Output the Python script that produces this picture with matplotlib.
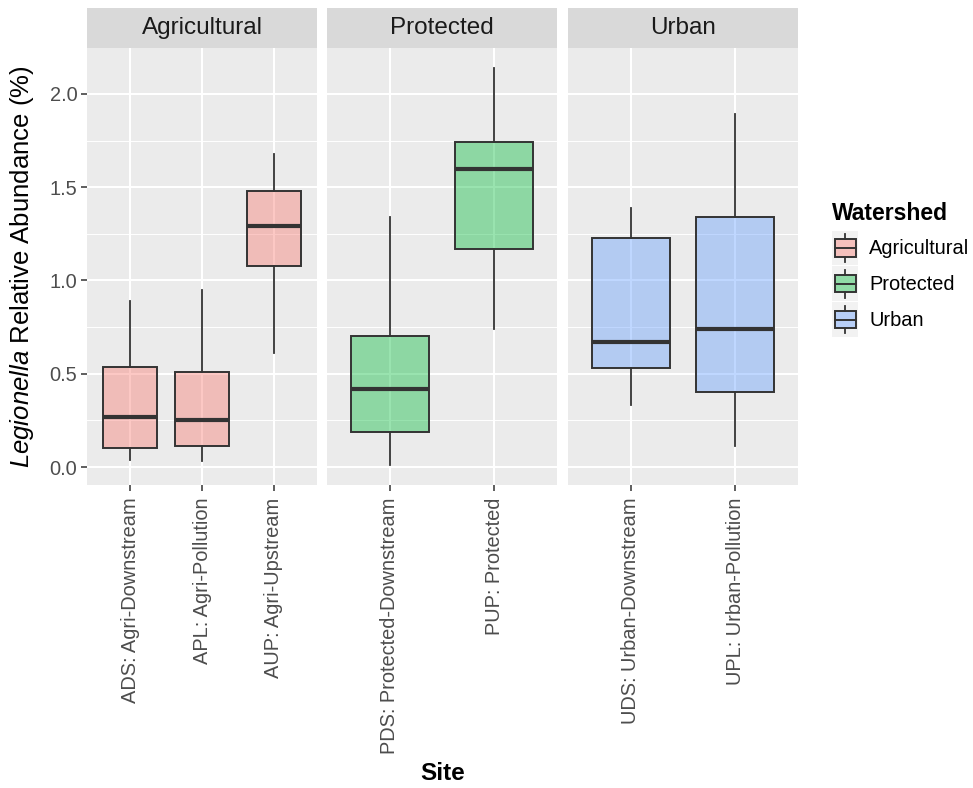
import matplotlib
matplotlib.use('Agg')
import matplotlib.pyplot as plt
from matplotlib.colors import to_rgba
from matplotlib.lines import Line2D
from matplotlib.patches import Rectangle
from matplotlib.legend_handler import HandlerBase

plt.rcParams['font.family'] = ['Liberation Sans', 'DejaVu Sans']
plt.rcParams['mathtext.fontset'] = 'custom'
plt.rcParams['mathtext.rm'] = 'Liberation Sans'
plt.rcParams['mathtext.it'] = 'Liberation Sans:italic'

# watershed facets and the hue each one gets
watersheds = ['Agricultural', 'Protected', 'Urban']
watershed_colors = ['#F8766D', '#00BA38', '#619CFF']

# one entry per site
site_labels = ['ADS: Agri-Downstream', 'APL: Agri-Pollution', 'AUP: Agri-Upstream',
               'PDS: Protected-Downstream', 'PUP: Protected',
               'UDS: Urban-Downstream', 'UPL: Urban-Pollution']
site_watershed = ['Agricultural', 'Agricultural', 'Agricultural',
                  'Protected', 'Protected', 'Urban', 'Urban']
whisker_low = [0.04, 0.03, 0.61, 0.01, 0.74, 0.33, 0.11]
q1 = [0.10, 0.11, 1.08, 0.19, 1.17, 0.53, 0.40]
median = [0.27, 0.25, 1.29, 0.42, 1.60, 0.67, 0.74]
q3 = [0.535, 0.51, 1.48, 0.705, 1.745, 1.23, 1.34]
whisker_high = [0.89, 0.95, 1.68, 1.34, 2.14, 1.39, 1.89]

W, H = 973, 788
PANEL_BG = '#EBEBEB'
STRIP_BG = '#D9D9D9'
LINE = '#333333'
ALPHA = 0.4

fig = plt.figure(figsize=(W / 100, H / 100), dpi=100)


def px_axes(x0, y0, x1, y1):
    '''Axes placed by pixel box (top-left origin).'''
    return fig.add_axes([x0 / W, 1 - y1 / H, (x1 - x0) / W, (y1 - y0) / H])


# shared y range, expanded 5% like ggplot
lo, hi = min(whisker_low), max(whisker_high)
pad = (hi - lo) * 0.05
ylim = (lo - pad, hi + pad)

panel_x = [(87, 317), (327, 557), (568, 798)]
panel_top, panel_bottom = 48, 485

for i, (shed, color, (x0, x1)) in enumerate(zip(watersheds, watershed_colors, panel_x)):
    idx = [k for k, s in enumerate(site_watershed) if s == shed]
    stats = [{'med': median[k], 'q1': q1[k], 'q3': q3[k],
              'whislo': whisker_low[k], 'whishi': whisker_high[k], 'fliers': []}
             for k in idx]
    pos = list(range(1, len(idx) + 1))

    ax = px_axes(x0, panel_top, x1, panel_bottom)
    ax.set_facecolor(PANEL_BG)
    ax.set_axisbelow(True)
    ax.bxp(stats, positions=pos, widths=0.75, patch_artist=True,
           showcaps=False, showfliers=False, manage_ticks=False,
           boxprops=dict(facecolor=to_rgba(color, ALPHA), edgecolor=LINE, linewidth=1.4),
           whiskerprops=dict(color=LINE, linewidth=1.3),
           medianprops=dict(color=LINE, linewidth=3.0, solid_capstyle='butt'))

    ax.set_xlim(0.4, len(idx) + 0.6)
    ax.set_ylim(*ylim)
    ax.set_xticks(pos)
    ax.set_xticklabels([site_labels[k] for k in idx], rotation=90, ha='center', va='top')
    ax.set_yticks([0, 0.5, 1.0, 1.5, 2.0])
    ax.set_yticks([0.25, 0.75, 1.25, 1.75], minor=True)
    ax.set_yticklabels(['0.0', '0.5', '1.0', '1.5', '2.0'])
    ax.grid(which='major', color='white', linewidth=1.45)
    ax.grid(which='minor', axis='y', color='white', linewidth=0.7)
    ax.tick_params(which='major', length=4, width=1.1, color=LINE,
                   labelcolor='#4D4D4D', labelsize=14.4, pad=3)
    ax.tick_params(axis='x', pad=5)
    ax.tick_params(which='minor', length=0)
    if i > 0:
        ax.tick_params(axis='y', left=False, labelleft=False)
    for sp in ax.spines.values():
        sp.set_visible(False)

    # facet strip
    st = px_axes(x0, 8, x1, panel_top)
    st.set_facecolor(STRIP_BG)
    st.set_xticks([])
    st.set_yticks([])
    for sp in st.spines.values():
        sp.set_visible(False)
    st.text(0.5, 0.5, shed, ha='center', va='center', size=17.5, color='#1A1A1A',
            transform=st.transAxes)

fig.text(22 / W, 1 - 266.5 / H, r'$\mathit{Legionella}$ Relative Abundance (%)',
         rotation=90, ha='center', va='center', size=18.5)
fig.text(442.5 / W, 1 - 774 / H, 'Site', ha='center', va='center',
         size=17.5, weight='bold')


class BoxKey(HandlerBase):
    '''Boxplot glyph for the legend keys.'''

    def create_artists(self, legend, orig_handle, xdescent, ydescent,
                       width, height, fontsize, trans):
        x0, y0 = -xdescent, -ydescent
        xc, yc = x0 + width / 2, y0 + height / 2
        bg = Rectangle((x0, y0), width, height, facecolor='#F2F2F2',
                       edgecolor='none', transform=trans)
        box = Rectangle((x0 + 0.1 * width, y0 + 0.25 * height), 0.8 * width, 0.5 * height,
                        facecolor=orig_handle.get_facecolor(), edgecolor=LINE,
                        linewidth=1.4, transform=trans)
        w1 = Line2D([xc, xc], [y0 + 0.1 * height, y0 + 0.25 * height],
                    color=LINE, linewidth=1.3, transform=trans)
        w2 = Line2D([xc, xc], [y0 + 0.75 * height, y0 + 0.9 * height],
                    color=LINE, linewidth=1.3, transform=trans)
        med = Line2D([x0 + 0.1 * width, x0 + 0.9 * width], [yc, yc],
                     color=LINE, linewidth=1.4, transform=trans)
        return [bg, box, w1, w2, med]


handles = [Rectangle((0, 0), 1, 1, facecolor=to_rgba(c, ALPHA)) for c in watershed_colors]
leg = fig.legend(handles, watersheds, handler_map={Rectangle: BoxKey()},
                 loc='upper left', bbox_to_anchor=(832 / W, 1 - 202 / H),
                 bbox_transform=fig.transFigure, frameon=False, borderpad=0,
                 borderaxespad=0, fontsize=14.4, handlelength=1.32, handleheight=2.3,
                 handletextpad=0.55, labelspacing=0.05, title='Watershed',
                 title_fontproperties={'weight': 'bold', 'size': 16.5},
                 alignment='left')
leg._legend_box.sep = 4

fig.savefig('out.png', dpi=100, facecolor='white')
